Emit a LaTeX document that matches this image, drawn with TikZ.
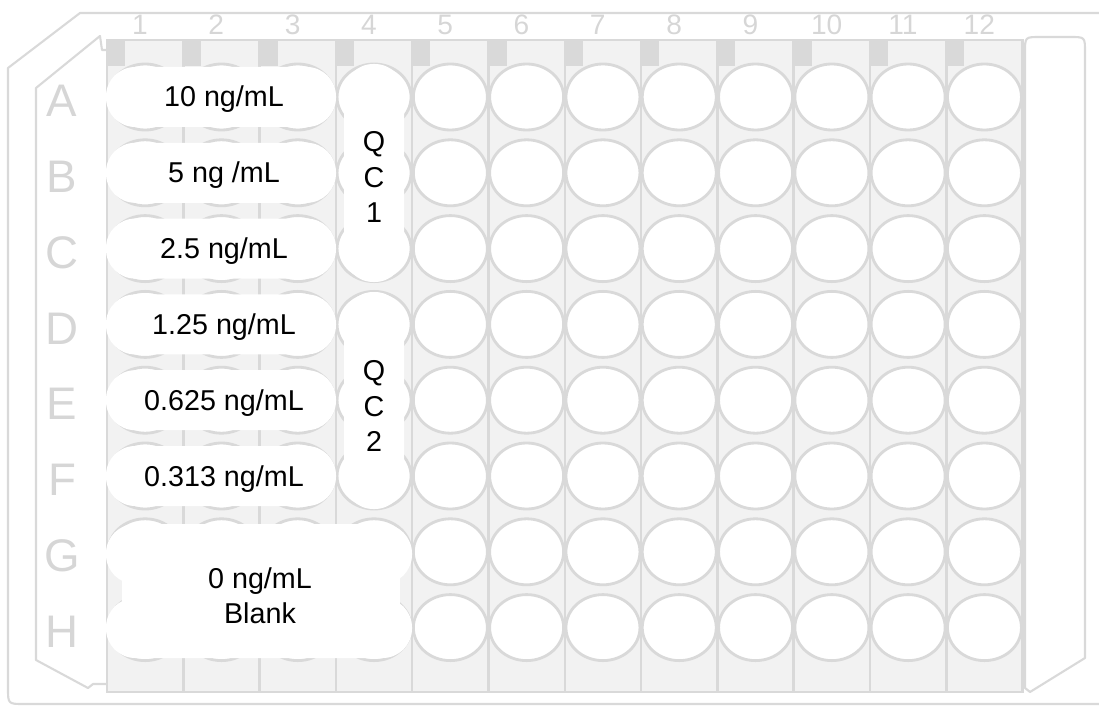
\documentclass[tikz,border=0pt]{standalone}
\usepackage{fontspec}
\setmainfont{Liberation Sans}
\usetikzlibrary{calc}
\definecolor{pfill}{HTML}{F2F2F2}
\definecolor{pline}{HTML}{D9D9D9}
\definecolor{plet}{HTML}{D6D6D6}

\begin{document}
\begin{tikzpicture}[x=0.03cm, y=-0.03cm,
    frm/.style={draw=pline, line width=1.8pt, line join=round},
    col/.style={draw=pline, fill=pfill, line width=2.2pt},
    well/.style={draw=pline, fill=white, line width=2.4pt},
    blob/.style={fill=white, rounded corners=25pt},
    lbl/.style={font=\fontsize{24.5}{30}\selectfont, align=center, inner sep=0pt},
    let/.style={font=\fontsize{39}{40}\selectfont, text=plet},
    num/.style={font=\fontsize{24}{24}\selectfont, text=plet}]

  \useasboundingbox (0,0) rectangle (1099,707);

  %% Outer plate outline
  \draw[frm] (1099,13) -- (80,13) -- (8,68) -- (8,688)
    .. controls (8,704) .. (24,704) -- (1099,704);
  %% Inner skirt, left side
  \draw[frm] (107,50) -- (102,50) -- (100,36) -- (36,88) -- (36,660)
    -- (88,688) -- (93,684) -- (107,684);

  %% Twelve strips with eight wells each
  \foreach \c in {1,...,12} {
    \pgfmathsetmacro\xl{107+76.3*(\c-1)}
    \draw[col] (\xl,40) rectangle ++(76.3,652);
    \fill[pline] (\xl,40) rectangle ++(18,26);
    \node[num] (col\c) at (\xl+33,25) {\c};
    \foreach \r in {1,...,8}
      \draw[well] (\xl+38.15,{97+75.8*(\r-1)})
        ellipse [x radius=1.11cm, y radius=0.99cm];
  }

  %% Row letters
  \foreach \r/\l in {1/A,2/B,3/C,4/D,5/E,6/F,7/G,8/H}
    \node[let] (row\l) at (62,{101+75.8*(\r-1)}) {\l};

  %% Right end tab
  \draw[frm, fill=white] (1030,692) -- (1025,688) -- (1025,52)
    .. controls (1025,37) .. (1040,37) -- (1070,37)
    .. controls (1085,37) .. (1085,52) -- (1085,658) -- cycle;

  %% Standard curve, columns 1-3
  \foreach \r/\txt in {1/{10 ng/mL},2/{5 ng /mL},3/{2.5 ng/mL},
                       4/{1.25 ng/mL},5/{0.625 ng/mL},6/{0.313 ng/mL}} {
    \pgfmathsetmacro\yc{97+75.8*(\r-1)}
    \fill[blob] (106,\yc-30) rectangle (336,\yc+30);
    \node[lbl, anchor=base] (std\r) at (224,\yc+10) {\txt};
  }

  %% Controls, column 4
  \fill[blob] (344,64) rectangle (404,282);
  \node[lbl] (qc1) at (374,177) {Q\\C\\1};
  \fill[blob] (344,292) rectangle (404,509);
  \node[lbl] (qc2) at (374,406) {Q\\C\\2};

  %% Blank, rows G-H
  \fill[blob] (106,524) rectangle (412,584);
  \fill[blob] (106,598) rectangle (412,658);
  \fill[white] (122,545) rectangle (400,635);
  \node[lbl] (blank) at (260,596) {0 ng/mL\\Blank};
\end{tikzpicture}
\end{document}
